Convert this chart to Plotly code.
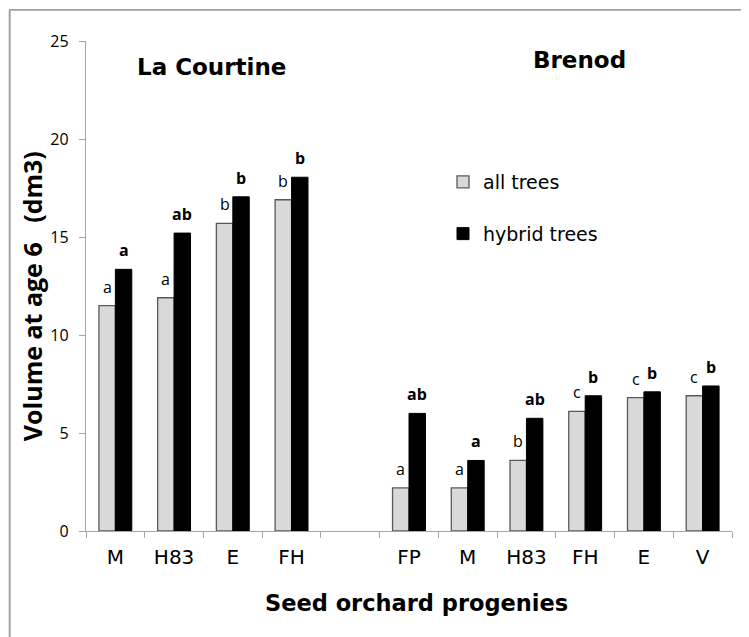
import plotly.graph_objects as go

# ---- data ----
lc_progenies = ["M", "H83", "E", "FH"]
br_progenies = ["FP", "M", "H83", "FH", "E", "V"]

lc_all_trees = [11.5, 11.9, 15.7, 16.9]
lc_hybrid_trees = [13.35, 15.2, 17.05, 18.05]
br_all_trees = [2.2, 2.2, 3.6, 6.1, 6.8, 6.9]
br_hybrid_trees = [6.0, 3.6, 5.75, 6.9, 7.1, 7.4]

lc_all_letters = ["a", "a", "b", "b"]
lc_hybrid_letters = ["a", "ab", "b", "b"]
br_all_letters = ["a", "a", "b", "c", "c", "c"]
br_hybrid_letters = ["ab", "a", "ab", "b", "b", "b"]

site_titles = ["La Courtine", "Brenod"]
y_ticks = [0, 5, 10, 15, 20, 25]

# unique category keys (sites share progeny names), plus an empty gap slot
keys = ["LC|" + p for p in lc_progenies] + ["gap"] + ["BR|" + p for p in br_progenies]
tick_text = lc_progenies + [""] + br_progenies
all_vals = lc_all_trees + [None] + br_all_trees
hyb_vals = lc_hybrid_trees + [None] + br_hybrid_trees
all_txt = lc_all_letters + [""] + br_all_letters
hyb_txt = lc_hybrid_letters + [""] + br_hybrid_letters

LETTER_FONT = "Open Sans, Liberation Sans, sans-serif"
WIDE = "DejaVu Sans, Liberation Sans, sans-serif"

# The page body has an 8px default margin, so the figure is drawn 8px
# smaller and every pixel position below is measured on the screen.
OFF = 8
W, H = 749 - OFF, 637 - OFF
PL, PR, PT, PB = 86, 732, 41, 530.7          # plot area on screen
PW, PH = PR - PL, PB - PT


def px(xs):
    return (xs - PL) / PW


def py(ys):
    return (PB - ys) / PH


fig = go.Figure()
fig.add_trace(go.Bar(
    name="all trees", x=keys, y=all_vals,
    marker=dict(color="#D9D9D9", line=dict(color="#595959", width=1.3)),
    legendgroup="g1",
))
fig.add_trace(go.Bar(
    name="hybrid trees", x=keys, y=hyb_vals,
    marker=dict(color="#000000", line=dict(color="#000000", width=1)),
    legendgroup="g2",
))

# significance letters above each bar
annotations = []
half_bar_px = 8.3
for k, v, t in zip(keys, all_vals, all_txt):
    if v is None:
        continue
    annotations.append(dict(x=k, y=v, text=t, xref="x", yref="y", showarrow=False,
                            xanchor="center", yanchor="bottom", xshift=-half_bar_px, yshift=6,
                            font=dict(size=16, family=LETTER_FONT, color="#000000")))
for k, v, t in zip(keys, hyb_vals, hyb_txt):
    if v is None:
        continue
    annotations.append(dict(x=k, y=v, text="<b>" + t + "</b>", xref="x", yref="y", showarrow=False,
                            xanchor="center", yanchor="bottom", xshift=half_bar_px, yshift=6,
                            font=dict(size=16, family=LETTER_FONT, color="#000000")))

# site titles, y axis title and x axis title
annotations += [
    dict(text="<b>" + site_titles[0] + "</b>", xref="paper", yref="paper",
         x=px(211), y=py(67), xanchor="center", yanchor="middle",
         showarrow=False, font=dict(size=23, family=WIDE)),
    dict(text="<b>" + site_titles[1] + "</b>", xref="paper", yref="paper",
         x=px(579), y=py(60), xanchor="center", yanchor="middle",
         showarrow=False, font=dict(size=23, family=WIDE)),
    dict(text="<b>Volume at age 6\u00a0\u00a0\u00a0(dm3)</b>", xref="paper", yref="paper",
         x=px(32), y=py(296), xanchor="center", yanchor="middle", textangle=-90,
         showarrow=False, font=dict(size=25, family=LETTER_FONT)),
    dict(text="<b>Seed orchard progenies</b>", xref="paper", yref="paper",
         x=px(416.5), y=py(603), xanchor="center", yanchor="middle",
         showarrow=False, font=dict(size=22.5, family=WIDE)),
    # outer chart frame drawn as a bordered empty box (top-left corner at screen 9,9)
    dict(text="\u200b", xref="paper", yref="paper",
         x=px(9), y=py(9), xanchor="left", yanchor="top",
         width=780, height=660, borderpad=0, borderwidth=1.5,
         bordercolor="#A0A0A0", showarrow=False, font=dict(size=10)),
]

fig.update_layout(
    width=W, height=H,
    margin=dict(l=PL - OFF, r=W - (PR - OFF), t=PT - OFF, b=H - (PB - OFF)),
    paper_bgcolor="white", plot_bgcolor="white",
    barmode="group", bargap=0.44, bargroupgap=0,
    font=dict(family=WIDE, color="#000000"),
    showlegend=True,
    legend=dict(
        x=px(443), y=py(163), xanchor="left", yanchor="top",
        font=dict(size=19, family=WIDE),
        bgcolor="rgba(0,0,0,0)", tracegroupgap=24, traceorder="grouped",
        itemwidth=30,
    ),
    xaxis=dict(
        type="category", categoryorder="array", categoryarray=keys,
        tickmode="array", tickvals=keys, ticktext=tick_text,
        tickson="boundaries", ticks="outside", ticklen=6, tickcolor="#A6A6A6",
        showline=True, linecolor="#A6A6A6", linewidth=1.3,
        showgrid=False, zeroline=False, automargin=False,
        ticklabelstandoff=8,
        tickfont=dict(size=20, family=WIDE),
    ),
    yaxis=dict(
        range=[0, 25], tickvals=y_ticks,
        ticks="outside", ticklen=6, tickcolor="#A6A6A6",
        showline=True, linecolor="#A6A6A6", linewidth=1.3,
        showgrid=False, zeroline=False, automargin=False,
        ticklabelstandoff=7,
        tickfont=dict(size=16, family=LETTER_FONT),
    ),
    annotations=annotations,
    shapes=[
        dict(type="rect", xref="paper", yref="paper",
             x0=px(9), x1=px(748), y0=py(10.5), y1=py(9),
             fillcolor="#A0A0A0", line=dict(width=0), layer="above"),
        dict(type="line", xref="paper", yref="paper",
             x0=px(9.5), x1=px(9.5), y0=py(10), y1=py(650),
             line=dict(color="#A0A0A0", width=1.6)),
    ],
)

fig.write_html("out.html")
